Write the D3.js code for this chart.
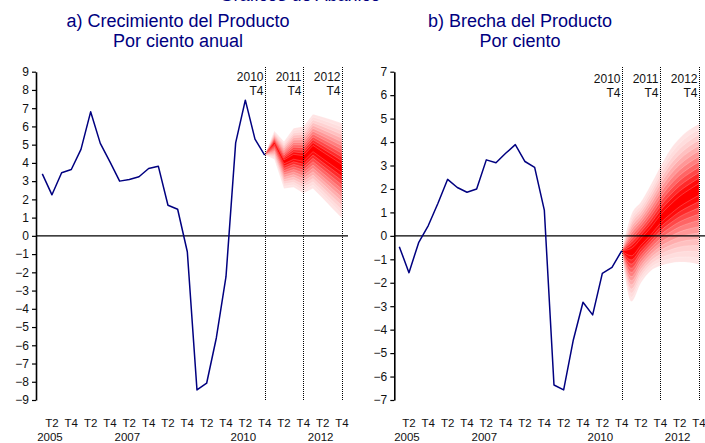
<!DOCTYPE html>
<html><head><meta charset="utf-8">
<script src="https://cdn.jsdelivr.net/npm/d3@7"></script>
<style>body{margin:0;background:#fff}svg{display:block}text{font-family:"Liberation Sans",Arial,sans-serif}</style>
</head><body><svg id="c" width="705" height="443"></svg>
<script>
// ---- data ----
const years = [2005,2006,2007,2008,2009,2010,2011,2012];
const quarters = years.flatMap(y => ["T1","T2","T3","T4"].map(q => y + q));
const xTickLabels = years.flatMap(() => ["T2","T4"]);
const yearLabels = ["2005","2007","2010","2012"];
const markerLabels = [["2010","T4"],["2011","T4"],["2012","T4"]];
const markerQuarters = ["2010T4","2011T4","2012T4"];
const fanQuarters = ["2010T4","2011T1","2011T2","2011T3","2011T4","2012T1","2012T2","2012T3","2012T4"];

const growthHist = [3.4, 2.25, 3.46, 3.64, 4.74, 6.8, 5.07, 4.06, 3.0, 3.09, 3.24, 3.69,
                    3.82, 1.68, 1.46, -0.87, -8.45, -8.08, -5.6, -2.24, 5.1, 7.44, 5.3, 4.43];
const growthFanCenter = [4.43, 5.1, 4.07, 4.34, 4.25, 4.8, 4.43, 4.07, 3.7];
const growthFanUpper  = [4.43, 5.75, 5.17, 5.9, 6.0, 6.67, 6.52, 6.35, 6.17];
const growthFanLower  = [4.43, 4.2, 2.6, 2.66, 2.33, 2.6, 2.06, 1.5, 0.96];

const gapHist = [-0.46, -1.57, -0.29, 0.44, 1.39, 2.41, 2.06, 1.86, 2.0, 3.24, 3.12, 3.52,
                 3.89, 3.17, 2.92, 1.1, -6.36, -6.57, -4.44, -2.83, -3.37, -1.6, -1.34, -0.64];
const gapFanCenter = [-0.64, -0.67, -0.25, 0.18, 0.7, 1.1, 1.46, 1.74, 2.0];
const gapFanUpper  = [-0.64, 0.9, 1.45, 2.17, 2.95, 3.66, 4.16, 4.52, 4.77];
const gapFanLower  = [-0.64, -2.8, -2.0, -1.5, -1.28, -1.17, -1.12, -1.14, -1.22];

const growthTicks = d3.range(-9, 10);
const gapTicks = d3.range(-7, 8);

// ---- drawing ----
const svg = d3.select("#c");
const navy = "#000080";
const FF = "'Liberation Sans', Arial, sans-serif";

svg.append("text").attr("x", 300).attr("y", 1).attr("text-anchor","middle")
  .attr("font-size", 18).attr("fill", navy).text("Gráficos de Abanico");

function panel(cfg) {
  const g = svg.append("g");
  const x = d3.scalePoint().domain(quarters).range([cfg.x0, cfg.x1]);
  const y = d3.scaleLinear().domain(cfg.domain).range([400, 71.7]);

  // titles
  g.append("text").attr("x", cfg.titleX).attr("y", 27).attr("text-anchor","middle")
    .attr("font-size", 18).attr("fill", navy).text(cfg.title1);
  g.append("text").attr("x", cfg.titleX).attr("y", 47).attr("text-anchor","middle")
    .attr("font-size", 18).attr("fill", navy).text(cfg.title2);

  // fan bands
  const N = 12;
  const col = d3.interpolateRgb("#ffe4e4", "#ff0000");
  const fan = fanQuarters.map((q, i) => ({q, c: cfg.fc[i], u: cfg.fu[i], l: cfg.fl[i]}));
  for (let k = N; k >= 1; k--) {
    const f = k / N;
    const area = d3.area().x(d => x(d.q))
      .y0(d => y(d.c + (d.l - d.c) * f))
      .y1(d => y(d.c + (d.u - d.c) * f))
      .curve(cfg.curve);
    const t = Math.pow((N - k) / (N - 1), 1.5);
    g.append("path").attr("d", area(fan)).attr("fill", col(Math.min(1, t * 1.1)))
      .attr("stroke", "#fff").attr("stroke-width", 0.4).attr("stroke-opacity", 0.5);
  }

  // zero line
  g.append("line").attr("x1", cfg.axisX).attr("x2", cfg.zeroEnd)
    .attr("y1", y(0)).attr("y2", y(0)).attr("stroke", "#000").attr("stroke-width", 1.2);

  // dotted markers
  markerQuarters.forEach((q, i) => {
    const xx = Math.round(x(q)) + 0.5;
    g.append("line").attr("x1", xx).attr("x2", xx).attr("y1", 67).attr("y2", 400)
      .attr("stroke", "#000").attr("stroke-width", 1).attr("stroke-dasharray", "1,1");
    g.append("text").attr("x", xx - 2).attr("y", cfg.markY).attr("text-anchor", "end")
      .attr("font-size", 12).attr("fill", "#111").text(markerLabels[i][0]);
    g.append("text").attr("x", xx - 2).attr("y", cfg.markY + 14).attr("text-anchor", "end")
      .attr("font-size", 12).attr("fill", "#111").text(markerLabels[i][1]);
  });

  // y axis
  const ax = g.append("g").attr("transform", `translate(${cfg.axisX},0)`)
    .call(d3.axisLeft(y).tickValues(cfg.ticks).tickSize(4).tickSizeOuter(0).tickPadding(3));
  ax.attr("font-family", FF);
  ax.select(".domain").attr("stroke", "#000").attr("stroke-width", 1.6);
  ax.selectAll(".tick line").attr("stroke", "#000").attr("stroke-width", 1.2);
  ax.selectAll(".tick text").attr("font-size", 12).attr("fill", "#111");

  // history line
  const hist = cfg.hist.map((v, i) => ({q: quarters[i], v}));
  g.append("path").attr("d", d3.line().x(d => x(d.q)).y(d => y(d.v))(hist))
    .attr("fill", "none").attr("stroke", navy).attr("stroke-width", 1.5)
    .attr("stroke-linejoin", "round");

  // x labels
  const tq = quarters.filter(q => q.endsWith("T2") || q.endsWith("T4"));
  tq.forEach((q, i) => {
    g.append("text").attr("x", x(q)).attr("y", 427).attr("text-anchor", "middle")
      .attr("font-size", 11.5).attr("fill", "#111").text(xTickLabels[i]);
  });
  yearLabels.forEach(yr => {
    g.append("text").attr("x", x(yr + "T2") - 2).attr("y", 440.5).attr("text-anchor", "middle")
      .attr("font-size", 11.5).attr("fill", "#111").text(yr);
  });
}

panel({x0: 42.3, x1: 342, axisX: 36, zeroEnd: 348, domain: [-9, 9], ticks: growthTicks,
       hist: growthHist, fc: growthFanCenter, fu: growthFanUpper, fl: growthFanLower,
       curve: d3.curveLinear, titleX: 178, markY: 80.5,
       title1: "a) Crecimiento del Producto", title2: "Por ciento anual"});
panel({x0: 399.3, x1: 699, axisX: 394.3, zeroEnd: 705, domain: [-7, 7], ticks: gapTicks,
       hist: gapHist, fc: gapFanCenter, fu: gapFanUpper, fl: gapFanLower,
       curve: d3.curveMonotoneX, titleX: 520, markY: 83,
       title1: "b) Brecha del Producto", title2: "Por ciento"});
</script></body></html>
